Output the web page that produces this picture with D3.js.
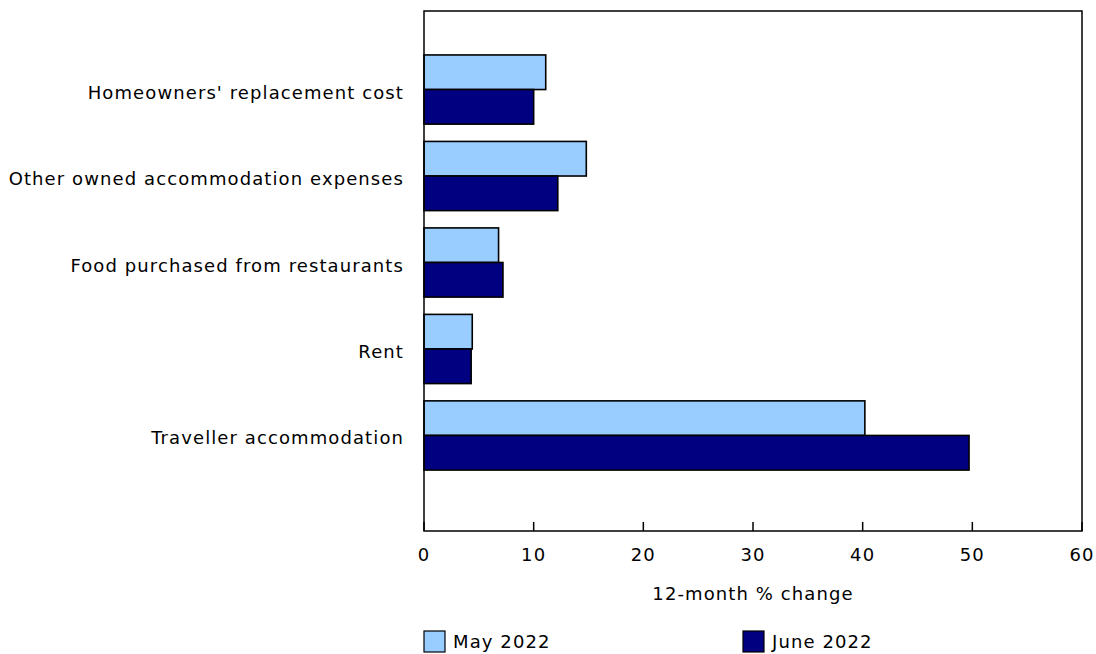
<!DOCTYPE html>
<html>
<head>
<meta charset="utf-8">
<script src="https://cdn.jsdelivr.net/npm/d3@7"></script>
<style>
  body { margin: 0; background: #fff; }
  text { font-family: "DejaVu Sans", Verdana, sans-serif; fill: #000; font-size: 18px; letter-spacing: 1.1px; }
</style>
</head>
<body>
<svg id="chart"></svg>
<script>
var width = 1096;
var height = 654;

var categories = ["Homeowners' replacement cost", "Other owned accommodation expenses",
    "Food purchased from restaurants", "Rent", "Traveller accommodation"];
var seriesNames = ["May 2022", "June 2022"];
var may2022 = [11.1, 14.8, 6.8, 4.4, 40.2];
var june2022 = [10.0, 12.2, 7.2, 4.3, 49.7];
var xTicks = [0, 10, 20, 30, 40, 50, 60];
var colors = ["#99ccff", "#000080"];

var plot = {left: 424, right: 1082, top: 11, bottom: 531};

var svg = d3.select("#chart")
    .attr("width", width)
    .attr("height", height);

var x = d3.scaleLinear().domain([0, 60]).range([plot.left, plot.right]);
var y = d3.scaleBand().domain(categories).range([46.3, 478.7]).paddingInner(0.2).paddingOuter(0.1);
var ySub = d3.scaleBand().domain(seriesNames).range([0, y.bandwidth()]);

var rows = categories.map(function (c, i) {
    return {cat: c, values: [may2022[i], june2022[i]]};
});

// bars
var groups = svg.selectAll(".row")
    .data(rows)
    .enter()
    .append("g")
    .attr("transform", function (d) { return "translate(0," + y(d.cat) + ")"; });

groups.selectAll("rect")
    .data(function (d) { return d.values.map(function (v, j) { return {v: v, s: seriesNames[j], j: j}; }); })
    .enter()
    .append("rect")
    .attr("x", x(0))
    .attr("y", function (d) { return ySub(d.s); })
    .attr("width", function (d) { return x(d.v) - x(0); })
    .attr("height", ySub.bandwidth())
    .style("fill", function (d) { return colors[d.j]; })
    .style("stroke", "#000")
    .style("stroke-width", 1.6);

// frame
svg.append("rect")
    .attr("x", plot.left)
    .attr("y", plot.top)
    .attr("width", plot.right - plot.left)
    .attr("height", plot.bottom - plot.top)
    .style("fill", "none")
    .style("stroke", "#000")
    .style("stroke-width", 1.5);

// x ticks (inside, pointing up)
svg.selectAll(".tick")
    .data(xTicks)
    .enter()
    .append("line")
    .attr("x1", function (d) { return x(d); })
    .attr("x2", function (d) { return x(d); })
    .attr("y1", plot.bottom)
    .attr("y2", plot.bottom - 9)
    .style("stroke", "#000")
    .style("stroke-width", 1.5);

svg.selectAll(".tickLabel")
    .data(xTicks)
    .enter()
    .append("text")
    .attr("x", function (d) { return x(d); })
    .attr("y", 561)
    .attr("text-anchor", "middle")
    .text(function (d) { return d; });

svg.append("text")
    .attr("x", (plot.left + plot.right) / 2)
    .attr("y", 600)
    .attr("text-anchor", "middle")
    .text("12-month % change");

// category labels
svg.selectAll(".catLabel")
    .data(categories)
    .enter()
    .append("text")
    .attr("x", plot.left - 20)
    .attr("y", function (d) { return y(d) + y.bandwidth() / 2 + 9; })
    .attr("text-anchor", "end")
    .text(function (d) { return d; });

// legend
var legendX = [424, 743];
var legend = svg.selectAll(".legend")
    .data(seriesNames)
    .enter()
    .append("g")
    .attr("transform", function (d, i) { return "translate(" + legendX[i] + ",631)"; });

legend.append("rect")
    .attr("width", 21)
    .attr("height", 21)
    .style("fill", function (d, i) { return colors[i]; })
    .style("stroke", "#000")
    .style("stroke-width", 1.2);

legend.append("text")
    .attr("x", 29)
    .attr("y", 17)
    .text(function (d) { return d; });
</script>
</body>
</html>
